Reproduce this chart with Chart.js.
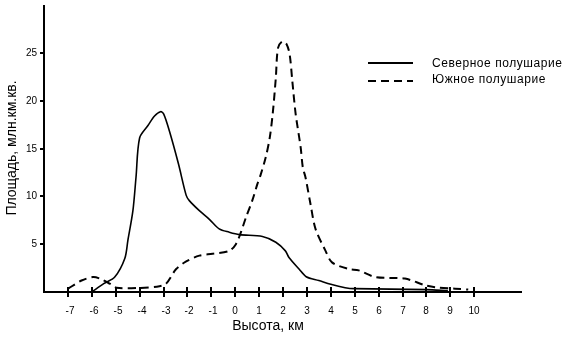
<!DOCTYPE html>
<html>
<head>
<meta charset="utf-8">
<script src="https://cdn.jsdelivr.net/npm/chart.js@4.4.1/dist/chart.umd.min.js"></script>
<style>
  body { margin: 0; background: #fff; }
</style>
</head>
<body>
<canvas id="myCanvas" width="570" height="339"></canvas>
<script>
const northX = [-6, -5.5, -5.04, -4.62, -4.49, -4.28, -4.15, -4.0, -3.65, -3.375, -3.125, -2.99, -2.75, -2.375, -2.05, -1.92, -1.5, -1.08, -0.67, -0.25, 0.17, 1.14, 1.7, 2.1, 2.25, 2.67, 2.97, 3.5, 4.0, 4.6, 5.0, 8.0, 8.9];
const northY = [0, 0.87, 1.56, 3.5, 5.4, 8.5, 12.0, 16.1, 17.4, 18.4, 18.85, 18.6, 16.8, 13.4, 10.1, 9.55, 8.5, 7.6, 6.6, 6.25, 6.0, 5.8, 5.2, 4.3, 3.6, 2.4, 1.6, 1.2, 0.8, 0.45, 0.35, 0.25, 0.15];

const southX = [-6.99, -6.43, -5.95, -5.67, -5.25, -4.97, -4.0, -3.17, -2.89, -2.47, -2.05, -1.5, -0.95, -0.25, 0.03, 0.24, 0.45, 0.72, 0.93, 1.07, 1.28, 1.45, 1.58, 1.7, 1.79, 1.97, 2.15, 2.28, 2.39, 2.53, 2.74, 2.83, 2.94, 3.15, 3.36, 3.78, 4.05, 4.75, 5.17, 5.86, 7.1, 7.95, 8.36, 9.2, 9.75];
const southY = [0.35, 1.2, 1.56, 1.4, 0.87, 0.45, 0.42, 0.6, 0.87, 2.4, 3.2, 3.8, 4.0, 4.3, 5.0, 6.25, 7.8, 9.6, 11.3, 12.3, 14.1, 16.2, 18.9, 22.4, 25.5, 26.2, 25.9, 24.8, 22.05, 18.6, 15.1, 13.0, 12.0, 9.2, 6.6, 4.3, 3.1, 2.4, 2.26, 1.56, 1.4, 0.7, 0.5, 0.35, 0.25];

const xTicks = [-7, -6, -5, -4, -3, -2, -1, 0, 1, 2, 3, 4, 5, 6, 7, 8, 9, 10];
const yTicks = [5, 10, 15, 20, 25];

const seriesNames = ["Северное полушарие", "Южное полушарие"];
const xTitle = "Высота, км";
const yTitle = "Площадь, млн.км.кв.";

const toPoints = (xs, ys) => xs.map((x, i) => ({ x, y: ys[i] }));

const font = "'Liberation Sans', Arial, sans-serif";

// axes, ticks, titles and legend drawn by hand, like the old scanned figure
const axesPlugin = {
  id: "oldAxes",
  afterDraw(chart) {
    const { ctx, chartArea: a, scales } = chart;
    const xs = scales.x, ys = scales.y;
    ctx.save();
    ctx.strokeStyle = "#000";
    ctx.fillStyle = "#000";
    ctx.lineWidth = 2;

    ctx.beginPath();
    ctx.moveTo(a.left, a.top);
    ctx.lineTo(a.left, a.bottom);
    ctx.lineTo(a.right, a.bottom);
    ctx.stroke();

    ctx.font = "10px " + font;
    ctx.textAlign = "center";
    ctx.textBaseline = "middle";
    xTicks.forEach(t => {
      const px = Math.round(xs.getPixelForValue(t));
      ctx.beginPath();
      ctx.moveTo(px, a.bottom - 5);
      ctx.lineTo(px, a.bottom + 5);
      ctx.stroke();
      ctx.fillText(String(t), px + (t < 0 ? 2 : 0), a.bottom + 19);
    });

    ctx.textAlign = "right";
    yTicks.forEach(t => {
      const py = Math.round(ys.getPixelForValue(t));
      ctx.beginPath();
      ctx.moveTo(a.left - 4, py);
      ctx.lineTo(a.left, py);
      ctx.stroke();
      ctx.fillText(String(t), a.left - 7, py);
    });

    ctx.font = "14px " + font;
    ctx.textAlign = "center";
    ctx.fillText(xTitle, 268, 326);

    ctx.save();
    ctx.translate(12, 148);
    ctx.rotate(-Math.PI / 2);
    ctx.fillText(yTitle, 0, 0);
    ctx.restore();

    // legend
    ctx.font = "12px " + font;
    ctx.textAlign = "left";
    chart.data.datasets.forEach((ds, i) => {
      const y = 63 + i * 18;
      ctx.lineWidth = 2;
      ctx.setLineDash(ds.borderDash || []);
      ctx.beginPath();
      ctx.moveTo(368, y);
      ctx.lineTo(413, y);
      ctx.stroke();
      ctx.setLineDash([]);
      ctx.letterSpacing = "0.55px";
      ctx.fillText(ds.label, 432, 64 + i * 16);
    });
    ctx.restore();
  }
};

const canvas = document.getElementById("myCanvas");
const ctx = canvas.getContext("2d");

new Chart(ctx, {
  type: "scatter",
  data: {
    datasets: [
      {
        label: seriesNames[0],
        data: toPoints(northX, northY),
        showLine: true,
        borderColor: "#000",
        borderWidth: 1.6,
        pointRadius: 0,
        tension: 0.3,
      },
      {
        label: seriesNames[1],
        data: toPoints(southX, southY),
        showLine: true,
        borderColor: "#000",
        borderWidth: 2,
        borderDash: [8, 5],
        pointRadius: 0,
        tension: 0.3,
      },
    ],
  },
  options: {
    responsive: false,
    animation: false,
    layout: { padding: { left: 44, right: 48, top: 5, bottom: 47 } },
    scales: {
      x: { type: "linear", min: -8, max: 12, display: false },
      y: { type: "linear", min: 0, max: 30, display: false },
    },
    plugins: {
      legend: { display: false },
      tooltip: { enabled: false },
    },
  },
  plugins: [axesPlugin],
});
</script>
</body>
</html>
